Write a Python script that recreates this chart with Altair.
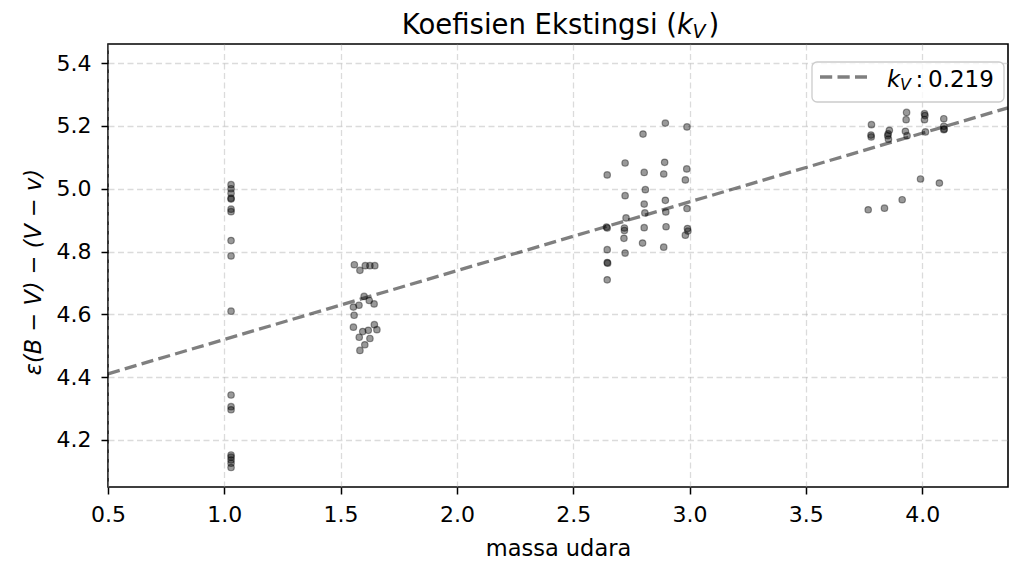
import altair as alt
import pandas as pd

# Airmass of each frame and the measured colour term eps(B-V) - (V-v)
massa_udara = [
    # ~1.03
    1.029, 1.029, 1.029, 1.029, 1.029, 1.029, 1.029, 1.029, 1.029,
    1.029, 1.029, 1.029, 1.029, 1.029, 1.029, 1.029, 1.029, 1.029,
    # ~1.6
    1.559, 1.583, 1.606, 1.626, 1.647,
    1.601, 1.623, 1.644, 1.555, 1.579, 1.558,
    1.555, 1.645, 1.595, 1.619, 1.656, 1.580, 1.626, 1.604, 1.583,
    # ~2.64
    2.646, 2.646, 2.643, 2.646, 2.646, 2.648, 2.646,
    # ~2.72
    2.723, 2.723, 2.727, 2.720, 2.720, 2.718, 2.723,
    # ~2.80
    2.800, 2.805, 2.810, 2.805, 2.808, 2.805, 2.798,
    # ~2.89
    2.896, 2.893, 2.889, 2.896, 2.898, 2.899, 2.889,
    # ~2.99
    2.989, 2.988, 2.982, 2.989, 2.991, 2.993, 2.982,
    # ~3.8 - 4.1
    3.782, 3.780, 3.781,
    3.859, 3.854, 3.852, 3.855,
    3.933, 3.931, 3.928, 3.935,
    4.010, 4.012, 4.010, 4.014,
    4.093, 4.093, 4.095, 4.093,
    3.993, 4.074, 3.914, 3.838, 3.768,
]

selisih = [
    5.013, 5.000, 4.986, 4.970, 4.967, 4.935, 4.927, 4.835, 4.786,
    4.610, 4.343, 4.306, 4.296, 4.152, 4.145, 4.136, 4.126, 4.112,
    4.758, 4.740, 4.755, 4.755, 4.755,
    4.657, 4.644, 4.633, 4.623, 4.629, 4.597,
    4.559, 4.567, 4.545, 4.549, 4.551, 4.527, 4.523, 4.503, 4.485,
    5.044, 4.875, 4.878, 4.806, 4.765, 4.763, 4.710,
    5.082, 4.978, 4.907, 4.875, 4.867, 4.842, 4.795,
    5.174, 5.052, 4.997, 4.951, 4.923, 4.876, 4.827,
    5.209, 5.084, 5.047, 4.963, 4.926, 4.879, 4.814,
    5.197, 5.063, 5.028, 4.937, 4.873, 4.865, 4.852,
    5.204, 5.171, 5.165,
    5.186, 5.175, 5.169, 5.158,
    5.243, 5.220, 5.183, 5.169,
    5.239, 5.233, 5.220, 5.181,
    5.223, 5.199, 5.190, 5.188,
    5.031, 5.018, 4.965, 4.938, 4.933,
]

# Linear fit: slope is the extinction coefficient k_V
k_V = 0.219
titik_potong = 4.301

x_domain = [0.5, 4.369]
y_domain = [4.050, 5.461]
x_ticks = [0.5, 1.0, 1.5, 2.0, 2.5, 3.0, 3.5, 4.0]
y_ticks = [4.2, 4.4, 4.6, 4.8, 5.0, 5.2, 5.4]

FONT = "DejaVu Sans"

data_titik = pd.DataFrame({"massa": massa_udara, "selisih": selisih})
data_garis = pd.DataFrame({
    "massa": x_domain,
    "selisih": [titik_potong + k_V * m for m in x_domain],
})

x_enc = alt.X(
    "massa:Q",
    scale=alt.Scale(domain=x_domain, nice=False, zero=False),
    axis=alt.Axis(
        values=x_ticks, format=".1f", title="massa udara",
        titleY=68, titleBaseline="alphabetic", titleFontSize=22.5,
        titleFontWeight="normal", labelFlush=False,
    ),
)
y_enc = alt.Y(
    "selisih:Q",
    scale=alt.Scale(domain=y_domain, nice=False, zero=False),
    axis=alt.Axis(
        values=y_ticks, format=".1f", title="ε(B − V) − (V − v)",
        titleX=-68, titleY=227.5, titleAngle=270, titleAlign="center",
        titleBaseline="alphabetic", titleFontSize=22.5,
        titleFontStyle="italic", titleFontWeight="normal", labelFlush=False,
    ),
)

titik = alt.Chart(data_titik).mark_circle(
    size=42, color="black", fillOpacity=0.4,
    stroke="black", strokeOpacity=0.4, strokeWidth=1.2,
).encode(x=x_enc, y=y_enc)

garis = alt.Chart(data_garis).mark_line(
    color="black", opacity=0.5, strokeWidth=3.3, strokeDash=[12.2, 5.3],
).encode(x="massa:Q", y="selisih:Q")


def teks(isi, x, y, size, style="normal", align="left"):
    return alt.Chart(pd.DataFrame({"isi": [isi]})).mark_text(
        font=FONT, fontSize=size, fontStyle=style, align=align,
        baseline="alphabetic", color="black",
    ).encode(x=alt.value(x), y=alt.value(y), text="isi:N")


# Title "Koefisien Ekstingsi (k_V)" set above the plot area
judul = [
    teks("Koefisien Ekstingsi (", 569, -10.5, 27.5, align="right"),
    teks("k", 569, -10.5, 27.5, "italic"),
    teks("V", 584.5, -6.5, 19, "italic"),
    teks(")", 600.5, -10.5, 27.5),
]

# Legend box in the upper-right corner
kotak = alt.Chart(pd.DataFrame({"a": [0]})).mark_rect(
    fill="white", fillOpacity=0.8, stroke="#cccccc", strokeWidth=1.3,
    cornerRadius=5,
).encode(x=alt.value(704), x2=alt.value(896), y=alt.value(18), y2=alt.value(58))

contoh = alt.Chart(pd.DataFrame({"a": [0]})).mark_rule(
    color="black", opacity=0.5, strokeWidth=3.3, strokeDash=[12.2, 5.3],
).encode(x=alt.value(712), x2=alt.value(759), y=alt.value(33))

legenda = [
    kotak,
    contoh,
    teks("k", 779, 42.7, 23, "italic"),
    teks("V", 792, 46, 16, "italic"),
    teks(":", 807.5, 42.7, 23),
    teks(f"{k_V:.3f}", 820, 42.7, 23),
]

chart = alt.layer(titik, garis, *legenda, *judul).properties(
    width=900,
    height=443,
    autosize=alt.AutoSizeParams(type="none"),
    padding={"left": 108, "top": 44, "right": 1, "bottom": 76},
).configure(
    font=FONT,
).configure_view(
    stroke="black", strokeWidth=1.6,
).configure_axis(
    domain=False,
    grid=True,
    gridColor="#b0b0b0",
    gridOpacity=0.45,
    gridWidth=1.3,
    gridDash=[6, 3.5],
    ticks=True,
    tickSize=7,
    tickWidth=1.5,
    tickColor="black",
    labelFont=FONT,
    labelFontSize=22,
    labelColor="black",
    titleFont=FONT,
    titleColor="black",
).configure_axisX(
    labelPadding=10,
).configure_axisY(
    labelPadding=10,
)

chart.save("out.html", embed_options={"renderer": "svg", "actions": False})
